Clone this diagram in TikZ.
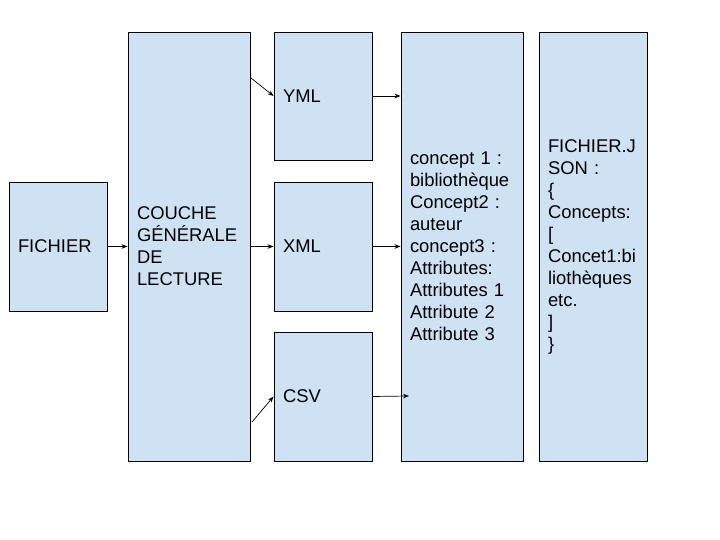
\documentclass[tikz,border=0pt]{standalone}
\usepackage{fontspec}
\setmainfont{Liberation Sans}
\usetikzlibrary{arrows.meta,calc}
\definecolor{boxblue}{HTML}{CFE2F3}
\tikzset{
  box/.style={draw=black, line width=0.9pt, fill=boxblue, inner xsep=9pt, inner ysep=0pt,
    align=left, font=\fontsize{18.4}{22}\selectfont, anchor=center},
  conn/.style={line width=0.7pt, -{Stealth[length=6pt,width=4.5pt]}}
}
\newcommand{\mkbox}[6]{% name, x, y, w, h, text
  \node[box, minimum width=#4pt, minimum height=#5pt, text width=#4pt-18pt] (#1) at (#2,#3) {#6};}
\begin{document}
\begin{tikzpicture}[x=1pt,y=-1pt]
\useasboundingbox (0,0) rectangle (720,540);
\mkbox{fichier}{58}{246.5}{98}{129}{FICHIER}
\mkbox{couche}{189}{246.5}{122}{429}{COUCHE\\GÉNÉRALE\\DE\\LECTURE}
\mkbox{yml}{323}{96}{98}{128}{YML}
\mkbox{xml}{323}{246.5}{98}{129}{XML}
\mkbox{csv}{323}{396.5}{98}{129}{CSV}
\mkbox{concept}{462}{246.5}{122}{429}{concept 1 :\\bibliothèque\\Concept2 :\\auteur\\concept3 :\\Attributes:\\Attributes 1\\Attribute 2\\Attribute 3}
\mkbox{json}{593}{246.5}{108}{429}{FICHIER.J\\SON :\\\{\\Concepts:\\{[}\\Concet1:bi\\liothèques\\etc.\\{]}\\\}}
\coordinate (s1) at (251,78);
\coordinate (s2) at (252,422);
\coordinate (e3) at (409,396);
\draw[conn] (fichier.east) -- (couche.west |- fichier.east);
\draw[conn] (couche.east |- xml.west) -- (xml.west);
\draw[conn] (s1) -- (yml.west);
\draw[conn] (s2) -- (csv.west);
\draw[conn] (yml.east) -- (concept.west |- yml.east);
\draw[conn] (xml.east) -- (concept.west |- xml.east);
\draw[conn] (csv.east) -- (e3);
\end{tikzpicture}
\end{document}
